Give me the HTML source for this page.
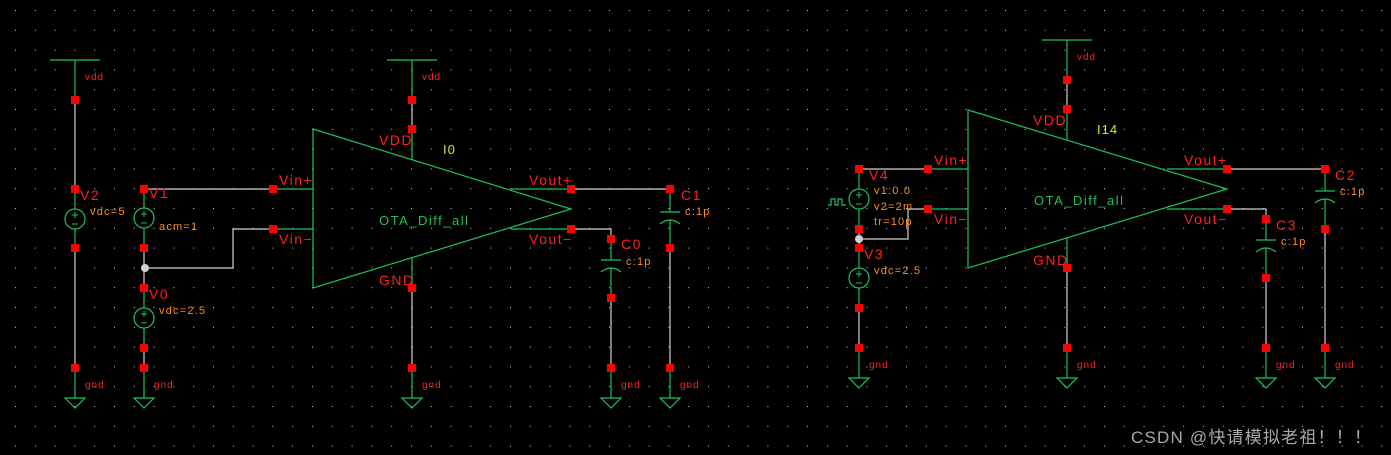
<!DOCTYPE html>
<html><head><meta charset="utf-8"><style>
html,body{margin:0;padding:0;background:#000;}
svg{display:block;}
text{font-family:"Liberation Sans","Noto Sans CJK SC",sans-serif;}
</style></head><body>
<svg width="1391" height="455" viewBox="0 0 1391 455" xmlns="http://www.w3.org/2000/svg">
<defs>
<pattern id="g" x="15" y="10" width="19.8" height="19.8" patternUnits="userSpaceOnUse">
<rect x="0" y="0" width="1" height="1" fill="#c8d0e0"/>
</pattern>
</defs>
<rect width="1391" height="455" fill="#000"/>
<rect width="1391" height="455" fill="url(#g)"/>

<g fill="none" stroke-width="1.2">
<g stroke="#1fc060">
<line x1="50" y1="60" x2="100" y2="60"/>
<line x1="75" y1="60" x2="75" y2="100"/>
<line x1="75" y1="189" x2="75" y2="248"/>
<circle cx="75" cy="219" r="10" fill="#000"/>
<line x1="75" y1="368" x2="75" y2="398"/>
<polygon points="65,398 85,398 75,408"/>
<line x1="144" y1="189" x2="144" y2="248"/>
<circle cx="144" cy="218" r="10" fill="#000"/>
<line x1="144" y1="288" x2="144" y2="348"/>
<circle cx="144" cy="318" r="10" fill="#000"/>
<line x1="144" y1="368" x2="144" y2="398"/>
<polygon points="134,398 154,398 144,408"/>
<polygon points="313,129 571,209 313,288"/>
<line x1="273" y1="189" x2="313" y2="189"/>
<line x1="273" y1="229" x2="313" y2="229"/>
<line x1="511" y1="189" x2="571" y2="189"/>
<line x1="511" y1="229" x2="571" y2="229"/>
<line x1="412" y1="129" x2="412" y2="160"/>
<line x1="412" y1="258" x2="412" y2="288"/>
<line x1="387" y1="60" x2="437" y2="60"/>
<line x1="412" y1="60" x2="412" y2="100"/>
<line x1="412" y1="368" x2="412" y2="398"/>
<polygon points="402,398 422,398 412,408"/>
<line x1="611" y1="239" x2="611" y2="260"/>
<line x1="601" y1="260" x2="621" y2="260"/>
<path d="M601,272 Q611,264 621,272"/>
<line x1="611" y1="268" x2="611" y2="298"/>
<line x1="611" y1="368" x2="611" y2="398"/>
<polygon points="601,398 621,398 611,408"/>
<line x1="670" y1="189" x2="670" y2="212"/>
<line x1="660" y1="212" x2="680" y2="212"/>
<path d="M660,224 Q670,216 680,224"/>
<line x1="670" y1="220" x2="670" y2="248"/>
<line x1="670" y1="368" x2="670" y2="398"/>
<polygon points="660,398 680,398 670,408"/>

<line x1="859" y1="169" x2="859" y2="229"/>
<circle cx="859" cy="199" r="10" fill="#000"/>
<polyline points="828,205 831,205 831,199 835,199 835,205 838,205 838,199 842,199 842,205 846,205"/>
<line x1="859" y1="248" x2="859" y2="308"/>
<circle cx="859" cy="278" r="10" fill="#000"/>
<line x1="859" y1="348" x2="859" y2="378"/>
<polygon points="849,378 869,378 859,388"/>
<polygon points="968,110 1227,189 968,268"/>
<line x1="928" y1="169" x2="968" y2="169"/>
<line x1="928" y1="209" x2="968" y2="209"/>
<line x1="1167" y1="169" x2="1227" y2="169"/>
<line x1="1167" y1="209" x2="1227" y2="209"/>
<line x1="1067" y1="109" x2="1067" y2="140"/>
<line x1="1067" y1="238" x2="1067" y2="268"/>
<line x1="1042" y1="40" x2="1092" y2="40"/>
<line x1="1067" y1="40" x2="1067" y2="80"/>
<line x1="1067" y1="348" x2="1067" y2="378"/>
<polygon points="1057,378 1077,378 1067,388"/>
<line x1="1266" y1="219" x2="1266" y2="240"/>
<line x1="1256" y1="240" x2="1276" y2="240"/>
<path d="M1256,252 Q1266,244 1276,252"/>
<line x1="1266" y1="248" x2="1266" y2="278"/>
<line x1="1266" y1="348" x2="1266" y2="378"/>
<polygon points="1256,378 1276,378 1266,388"/>
<line x1="1325" y1="169" x2="1325" y2="191"/>
<line x1="1315" y1="191" x2="1335" y2="191"/>
<path d="M1315,203 Q1325,195 1335,203"/>
<line x1="1325" y1="199" x2="1325" y2="229"/>
<line x1="1325" y1="348" x2="1325" y2="378"/>
<polygon points="1315,378 1335,378 1325,388"/>
</g>

<!-- +/- marks -->
<g stroke="#1fc060" stroke-width="1">
<path d="M72,215h6M75,212v6M72,224h6"/>
<path d="M141,214h6M144,211v6M141,223h6"/>
<path d="M141,314h6M144,311v6M141,323h6"/>
<path d="M856,195h6M859,192v6M856,204h6"/>
<path d="M856,274h6M859,271v6M856,283h6"/>
</g>

<g stroke="#d0d0d0">
<line x1="75" y1="100" x2="75" y2="189"/>
<line x1="75" y1="248" x2="75" y2="368"/>
<line x1="144" y1="248" x2="144" y2="288"/>
<line x1="144" y1="348" x2="144" y2="368"/>
<line x1="144" y1="189" x2="273" y2="189"/>
<polyline points="273,229 233,229 233,268 144,268"/>
<line x1="412" y1="100" x2="412" y2="129"/>
<line x1="412" y1="288" x2="412" y2="368"/>
<line x1="571" y1="189" x2="670" y2="189"/>
<polyline points="571,229 611,229 611,239"/>
<line x1="611" y1="298" x2="611" y2="368"/>
<line x1="670" y1="248" x2="670" y2="368"/>
<line x1="859" y1="169" x2="928" y2="169"/>
<polyline points="928,209 908,209 908,239 859,239"/>
<line x1="859" y1="229" x2="859" y2="248"/>
<line x1="859" y1="308" x2="859" y2="348"/>
<line x1="1067" y1="80" x2="1067" y2="109"/>
<line x1="1067" y1="268" x2="1067" y2="348"/>
<line x1="1227" y1="169" x2="1325" y2="169"/>
<polyline points="1227,209 1266,209 1266,219"/>
<line x1="1266" y1="278" x2="1266" y2="348"/>
<line x1="1325" y1="229" x2="1325" y2="348"/>
</g>
</g>

<circle cx="145" cy="268" r="4" fill="#d0d0d8"/>
<circle cx="859" cy="239" r="4" fill="#d0d0d8"/>

<g fill="#ff0000">
<rect x="71" y="96" width="8" height="8"/><rect x="71" y="185" width="8" height="8"/><rect x="71" y="244" width="8" height="8"/><rect x="71" y="364" width="8" height="8"/>
<rect x="140" y="185" width="8" height="8"/><rect x="140" y="244" width="8" height="8"/><rect x="140" y="284" width="8" height="8"/><rect x="140" y="344" width="8" height="8"/><rect x="140" y="364" width="8" height="8"/>
<rect x="269" y="185" width="8" height="8"/><rect x="269" y="225" width="8" height="8"/>
<rect x="408" y="96" width="8" height="8"/><rect x="408" y="125" width="8" height="8"/><rect x="408" y="284" width="8" height="8"/><rect x="408" y="364" width="8" height="8"/>
<rect x="567" y="185" width="8" height="8"/><rect x="567" y="225" width="8" height="8"/>
<rect x="607" y="235" width="8" height="8"/><rect x="607" y="294" width="8" height="8"/><rect x="607" y="364" width="8" height="8"/>
<rect x="666" y="185" width="8" height="8"/><rect x="666" y="244" width="8" height="8"/><rect x="666" y="364" width="8" height="8"/>
<rect x="855" y="165" width="8" height="8"/><rect x="855" y="225" width="8" height="8"/><rect x="855" y="244" width="8" height="8"/><rect x="855" y="304" width="8" height="8"/><rect x="855" y="344" width="8" height="8"/>
<rect x="924" y="165" width="8" height="8"/><rect x="924" y="205" width="8" height="8"/>
<rect x="1063" y="76" width="8" height="8"/><rect x="1063" y="105" width="8" height="8"/><rect x="1063" y="264" width="8" height="8"/><rect x="1063" y="344" width="8" height="8"/>
<rect x="1223" y="165" width="8" height="8"/><rect x="1223" y="205" width="8" height="8"/>
<rect x="1262" y="215" width="8" height="8"/><rect x="1262" y="274" width="8" height="8"/><rect x="1262" y="344" width="8" height="8"/>
<rect x="1321" y="165" width="8" height="8"/><rect x="1321" y="225" width="8" height="8"/><rect x="1321" y="344" width="8" height="8"/>
</g>

<g fill="#ff2020" font-size="10" letter-spacing="1">
<text x="85" y="80">vdd</text><text x="85" y="388">gnd</text>
<text x="154" y="388">gnd</text>
<text x="422" y="80">vdd</text><text x="422" y="388">gnd</text>
<text x="621" y="388">gnd</text><text x="680" y="388">gnd</text>
<text x="1077" y="60">vdd</text><text x="1077" y="368">gnd</text>
<text x="869" y="368">gnd</text>
<text x="1276" y="368">gnd</text><text x="1335" y="368">gnd</text>
</g>
<g fill="#ff2020" font-size="14" letter-spacing="1.5">
<text x="80" y="200">V2</text><text x="149" y="198">V1</text><text x="149" y="299">V0</text>
<text x="279" y="185">Vin+</text><text x="279" y="244">Vin−</text>
<text x="379" y="145">VDD</text><text x="379" y="285">GND</text>
<text x="529" y="185">Vout+</text><text x="529" y="244">Vout−</text>
<text x="621" y="249">C0</text><text x="681" y="200">C1</text>
<text x="869" y="180">V4</text><text x="864" y="259">V3</text>
<text x="934" y="165">Vin+</text><text x="934" y="224">Vin−</text>
<text x="1033" y="125">VDD</text><text x="1033" y="265">GND</text>
<text x="1184" y="165">Vout+</text><text x="1184" y="224">Vout−</text>
<text x="1276" y="230">C3</text><text x="1335" y="180">C2</text>
</g>
<g fill="#ff8c20" font-size="11" letter-spacing="1.2">
<text x="90" y="215">vdc=5</text>
<text x="159" y="230">acm=1</text>
<text x="159" y="314">vdc=2.5</text>
<text x="626" y="265">c:1p</text>
<text x="685" y="215">c:1p</text>
<text x="874" y="194">v1:0.0</text>
<text x="874" y="210">v2=2m</text>
<text x="874" y="225">tr=10p</text>
<text x="874" y="274">vdc=2.5</text>
<text x="1281" y="245">c:1p</text>
<text x="1340" y="195">c:1p</text>
</g>
<g fill="#1fc060" font-size="13" letter-spacing="1.5">
<text x="379" y="225">OTA_Diff_all</text>
<text x="1034" y="205">OTA_Diff_all</text>
</g>
<g fill="#e8e020" font-size="13" letter-spacing="1">
<text x="443" y="154">I0</text>
<text x="1097" y="134">I14</text>
</g>
<text x="1131" y="443" fill="#a8a8a8" font-size="17" letter-spacing="1.2">CSDN @快请模拟老祖！！！</text>
</svg>
</body></html>
